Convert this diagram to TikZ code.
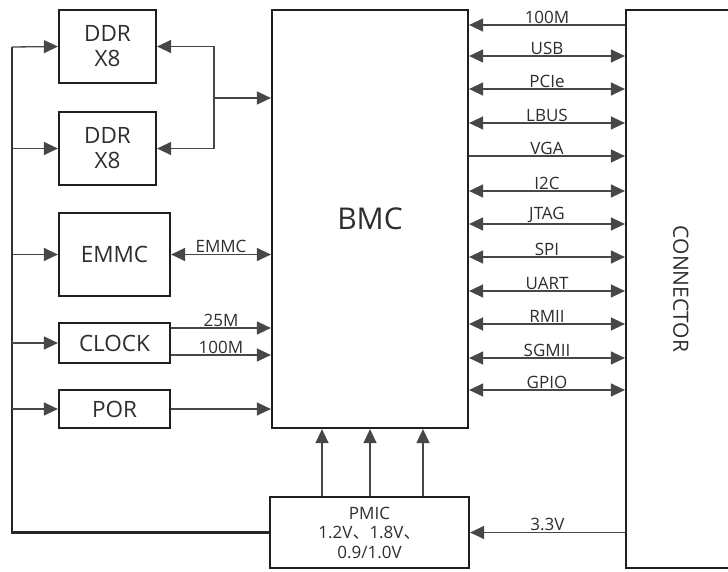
\documentclass[tikz,border=0pt]{standalone}
\usepackage{fontspec}
\setmainfont{Open Sans}
\newfontfamily\cjk{Noto Sans CJK SC}
\usetikzlibrary{arrows.meta}

\tikzset{
  blk/.style={draw=black!88,line width=2.2pt,inner sep=0pt,align=center,text=black!82,font=\fontsize{22.5}{25}\selectfont},
  wire/.style={draw=black!72,line width=1.3pt},
  arr/.style={wire,-{Triangle[length=14pt,width=13pt]}},
  biarr/.style={wire,{Triangle[length=14pt,width=13pt]}-{Triangle[length=14pt,width=13pt]}},
  revarr/.style={wire,{Triangle[length=14pt,width=13pt]}-},
  sig/.style={text=black!82,font=\fontsize{17}{19}\selectfont,inner sep=1pt,above}
}

\begin{document}
\begin{tikzpicture}[x=1pt,y=-1pt]
\clip (0,0) rectangle (728,572);
% blocks
\node[blk,minimum width=97,minimum height=73] (ddra) at (107.5,46.5) {DDR\\X8};
\node[blk,minimum width=97,minimum height=73] (ddrb) at (107.5,148.5) {DDR\\X8};
\node[blk,minimum width=111,minimum height=83] (emmc) at (114.5,254.5) {EMMC};
\node[blk,minimum width=111,minimum height=40] (clock) at (114.5,343) {CLOCK};
\node[blk,minimum width=111,minimum height=38] (por) at (114.5,409) {POR};
\node[blk,minimum width=196,minimum height=418,font=\fontsize{30}{33}\selectfont] (bmc) at (370,219) {BMC};
\node[blk,minimum width=110,minimum height=558] (conn) at (681,289) {};
\node[text=black!82,font=\fontsize{21}{24}\selectfont,rotate=-90] (connlbl) at (conn.center) {CONNECTOR};
\node[blk,minimum width=199,minimum height=71,font=\fontsize{17}{19.5}\selectfont] (pmic) at (369.5,532.5) {PMIC\\1.2V{\cjk 、}1.8V{\cjk 、}\\0.9/1.0V};
% power / reset bus on the left
\coordinate (bus) at (12,47);
\draw[wire,line width=2.2pt,draw=black!85] (pmic.west) -| (bus |- por.west);
\draw[wire,line width=1.6pt,draw=black!80] (bus |- por.west) -- (bus);
\draw[arr] (bus) -- (ddra.west);
\foreach \b in {ddrb,emmc,clock,por} \draw[arr] (bus |- \b.west) -- (\b.west);
% memory
\coordinate (ddrj) at (214,98);
\draw[arr] (ddrj) |- (ddra.east);\draw[arr] (ddrj) |- (ddrb.east);
\draw[arr] (ddrj) -- (ddrj -| bmc.west);
\draw[biarr] (emmc.east) -- (emmc.east -| bmc.west) node[sig,midway] {EMMC};
\draw[arr] ([yshift=15pt]clock.east) -- ([yshift=15pt]clock.east -| bmc.west) node[sig,midway] {25M};
\draw[arr] ([yshift=-12pt]clock.east) -- ([yshift=-12pt]clock.east -| bmc.west) node[sig,midway] {100M};
\draw[arr] (por.east) -- (por.east -| bmc.west);
% interfaces to the connector
\draw[revarr] (bmc.east |- 0,25) -- (conn.west |- 0,25) node[sig,midway] {100M};
\draw[arr] (bmc.east |- 0,156) -- (conn.west |- 0,156) node[sig,midway] {VGA};
\foreach \yy/\lbl in {56/USB,89/PCIe,123/LBUS,191/I2C,224/JTAG,257/SPI,291/UART,324/RMII,358/SGMII,390/GPIO}
  \draw[biarr] (bmc.east |- 0,\yy) -- (conn.west |- 0,\yy) node[sig,midway] {\lbl};
% supplies
\foreach \xx in {322,370,423} \draw[arr] (pmic.north -| \xx,0) -- (bmc.south -| \xx,0);
\draw[arr] (conn.west |- pmic.east) -- (pmic.east) node[sig,midway] {3.3V};
\end{tikzpicture}
\end{document}
